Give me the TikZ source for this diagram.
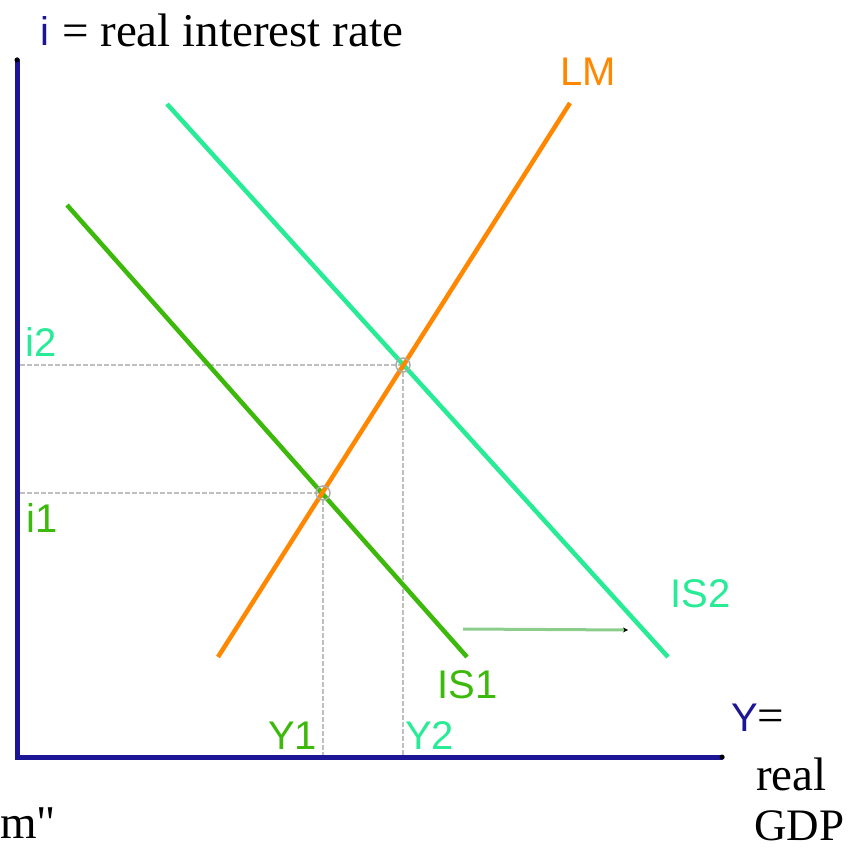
\documentclass[tikz,border=0pt]{standalone}
\usepackage{fontspec}
\setmainfont{Liberation Serif}
\newfontfamily\labfont{Liberation Sans}
\usetikzlibrary{arrows.meta}
\definecolor{axisblue}{RGB}{28,22,150}
\definecolor{lmorange}{RGB}{255,136,0}
\definecolor{isone}{RGB}{60,185,10}
\definecolor{istwo}{RGB}{40,235,150}
\definecolor{shiftgreen}{RGB}{140,205,140}
\tikzset{
  axis/.style={draw=axisblue,line width=5pt,line cap=round},
  curve/.style={line width=4.5pt},
  guide/.style={draw=gray!50,line width=1.3pt,dash pattern=on 5pt off 2pt},
  lab/.style={font=\labfont\fontsize{40}{44}\selectfont,inner sep=0pt},
  serif/.style={font=\fontsize{47}{50}\selectfont,inner sep=0pt},
  eqmark/.style={draw=gray!65,line width=1.5pt,circle,minimum size=14pt,inner sep=0pt}
}
\begin{document}
\begin{tikzpicture}[x=1pt,y=-1pt]
\useasboundingbox (0,0) rectangle (852,848);
% axis
\coordinate (O) at (17,757);
\coordinate (Ytop) at (17,60);
\coordinate (Xend) at (722,757);
% curve endpoints
\coordinate (LMa) at (218,657);
\coordinate (LMb) at (570,103);
\coordinate (ISa1) at (67,205);
\coordinate (ISb1) at (467,657);
\coordinate (ISa2) at (167,104);
\coordinate (ISb2) at (668,657);
\coordinate (E1) at (323,493);
\coordinate (E2) at (403,365);
\coordinate (E1x) at (323,757);
\coordinate (E2x) at (403,757);
\coordinate (E1y) at (20,493);
\coordinate (E2y) at (20,365);
\coordinate (Sa) at (463,629);
\coordinate (Sb) at (628,630);
% guides
\draw[guide] (E2y) -- (E2);
\draw[guide] (E1y) -- (E1);
\draw[guide] (E2) -- (E2x);
\draw[guide] (E1) -- (E1x);
% curves
\draw[curve,draw=istwo] (ISa2) -- (ISb2);
\draw[curve,draw=isone] (ISa1) -- (ISb1);
\draw[curve,draw=lmorange] (LMa) -- (LMb);
% intersection marks
\node[eqmark] (M1) at (E1) {};
\node[eqmark] (M2) at (E2) {};
% shift arrow
\draw[draw=shiftgreen,line width=3pt,-{Stealth[length=5pt,width=5pt,black]}] (Sa) -- (Sb);
% axes
\draw[axis] (Ytop) -- (O) -- (Xend);
\fill[black] (Ytop) circle (2.5);
\fill[black] (Xend) circle (2.5);
% labels
\node[lab,text=lmorange,anchor=base west] (LMl) at (560,86) {LM};
\node[lab,text=isone,anchor=base west] (IS1l) at (437,698) {IS1};
\node[lab,text=istwo,anchor=base west] (IS2l) at (670,607) {IS2};
\node[lab,text=istwo,anchor=base west] (i2l) at (25,356) {i2};
\node[lab,text=isone,anchor=base west] (i1l) at (26,532) {i1};
\node[lab,text=isone,anchor=base west] (Y1l) at (268,749) {Y1};
\node[lab,text=istwo,anchor=base west] (Y2l) at (405,749) {Y2};
% titles
\node[lab,text=axisblue,anchor=base west] (il) at (40,46) {i};
\node[serif,anchor=base west] (title) at (62,47) {= real interest rate};
\node[lab,text=axisblue,anchor=base west] (Yl) at (731,731) {Y};
\node[serif,anchor=base west] (eq) at (757,731) {=};
\node[serif,anchor=base west] (real) at (756,790) {real};
\node[serif,anchor=base west,font=\fontsize{45}{48}\selectfont] (gdp) at (754,840) {GDP};
\node[serif,anchor=base east] (mq) at (56,838) {m\textquotedbl};
\end{tikzpicture}
\end{document}
